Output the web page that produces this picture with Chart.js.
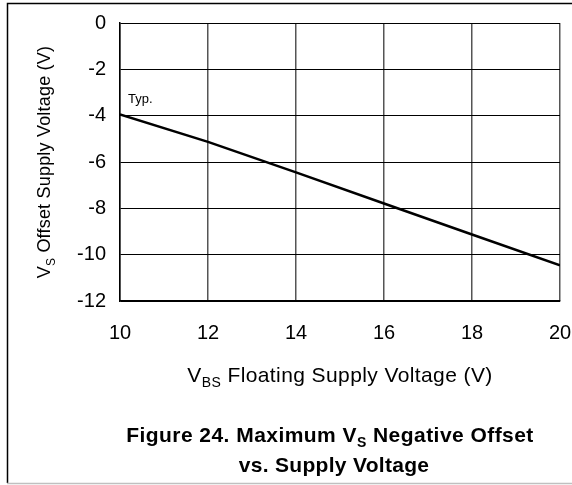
<!DOCTYPE html>
<html>
<head>
<meta charset="utf-8">
<script src="https://cdn.jsdelivr.net/npm/chart.js@4"></script>
<style>
  html, body { margin: 0; padding: 0; background: #fff; }
  canvas { display: block; }
</style>
</head>
<body>
<canvas id="offsetChart" width="572" height="485"></canvas>
<script>
// VBS floating supply voltage (V) and typical max VS negative offset (V)
const vbsVolts = [10, 12, 14, 16, 18, 20];
const vsOffset = [-3.95, -5.13, -6.45, -7.79, -9.13, -10.46];
const xTicks = [10, 12, 14, 16, 18, 20];
const yTicks = [0, -2, -4, -6, -8, -10, -12];

const FONT = "'Liberation Sans', Arial, sans-serif";

// draw text runs, some as subscripts
function drawRuns(ctx, runs, x, y, size, weight, spacing) {
    const subSize = Math.round(size * 0.68);
    ctx.letterSpacing = (spacing || 0) + 'px';
    let total = 0;
    runs.forEach(r => {
        ctx.font = `${weight} ${r.sub ? subSize : size}px ${FONT}`;
        r.w = ctx.measureText(r.t).width;
        total += r.w;
    });
    let cx = x - total / 2;
    ctx.textAlign = 'left';
    ctx.textBaseline = 'alphabetic';
    runs.forEach(r => {
        ctx.font = `${weight} ${r.sub ? subSize : size}px ${FONT}`;
        ctx.fillText(r.t, cx, r.sub ? y + size * 0.25 : y);
        cx += r.w;
    });
    ctx.letterSpacing = '0px';
}

const decorPlugin = {
    id: 'decor',
    beforeDraw(chart) {
        const ctx = chart.ctx;
        ctx.save();
        ctx.fillStyle = '#fff';
        ctx.fillRect(0, 0, chart.width, chart.height);
        // figure frame
        ctx.strokeStyle = '#000';
        ctx.lineWidth = 1.5;
        ctx.beginPath();
        ctx.moveTo(572, 3.5);
        ctx.lineTo(7.5, 3.5);
        ctx.lineTo(7.5, 483);
        ctx.stroke();
        ctx.strokeStyle = '#c0c0c0';
        ctx.beginPath();
        ctx.moveTo(7, 483.5);
        ctx.lineTo(572, 483.5);
        ctx.stroke();
        ctx.restore();
    },
    afterDraw(chart) {
        const ctx = chart.ctx;
        const area = chart.chartArea;
        const midX = (area.left + area.right) / 2;
        const midY = (area.top + area.bottom) / 2;
        ctx.save();
        ctx.fillStyle = '#000';

        // y title
        ctx.save();
        ctx.translate(50, midY);
        ctx.rotate(-Math.PI / 2);
        drawRuns(ctx, [{ t: 'V' }, { t: 'S', sub: true }, { t: ' Offset Supply Voltage (V)' }], 0, 0, 18, 'normal', 0.2);
        ctx.restore();

        // x title
        drawRuns(ctx, [{ t: 'V' }, { t: 'BS', sub: true }, { t: ' Floating Supply Voltage (V)' }], midX, 382, 21, 'normal', 0.4);

        // caption
        drawRuns(ctx, [{ t: 'Figure 24. Maximum V' }, { t: 'S', sub: true }, { t: ' Negative Offset' }], 330, 442, 21, 'bold', 0.45);
        drawRuns(ctx, [{ t: 'vs. Supply Voltage' }], 334, 472, 21, 'bold', 0.3);

        // curve label
        ctx.font = `13px ${FONT}`;
        ctx.textAlign = 'left';
        ctx.textBaseline = 'alphabetic';
        ctx.fillText('Typ.', 128, 103);
        ctx.restore();
    }
};

const ctx = document.getElementById('offsetChart').getContext('2d');
new Chart(ctx, {
    type: 'line',
    data: {
        datasets: [{
            label: 'Typ.',
            data: vbsVolts.map((v, i) => ({ x: v, y: vsOffset[i] })),
            borderColor: '#000',
            borderWidth: 2.5,
            pointRadius: 0,
            tension: 0,
            fill: false
        }]
    },
    options: {
        responsive: false,
        animation: false,
        layout: { padding: { left: 0, top: 23, right: 12, bottom: 0 } },
        plugins: {
            legend: { display: false },
            tooltip: { enabled: false }
        },
        scales: {
            x: {
                type: 'linear',
                min: 10,
                max: 20,
                afterFit: s => { s.height = 184; s.paddingLeft = 0; s.paddingRight = 0; },
                afterBuildTicks: s => { s.ticks = xTicks.map(v => ({ value: v })); },
                grid: { color: '#555', lineWidth: 1.5, drawTicks: false },
                border: { color: '#000', width: 1.5 },
                ticks: { color: '#000', padding: 20, font: { family: FONT, size: 20 } }
            },
            y: {
                type: 'linear',
                min: -12,
                max: 0,
                afterFit: s => { s.width = 120; s.paddingTop = 0; s.paddingBottom = 0; },
                afterBuildTicks: s => { s.ticks = yTicks.map(v => ({ value: v })); },
                grid: { color: '#000', lineWidth: 1, drawTicks: false },
                border: { color: '#000', width: 1.5 },
                ticks: { color: '#000', padding: 14, font: { family: FONT, size: 20 } }
            }
        }
    },
    plugins: [decorPlugin]
});
</script>
</body>
</html>
